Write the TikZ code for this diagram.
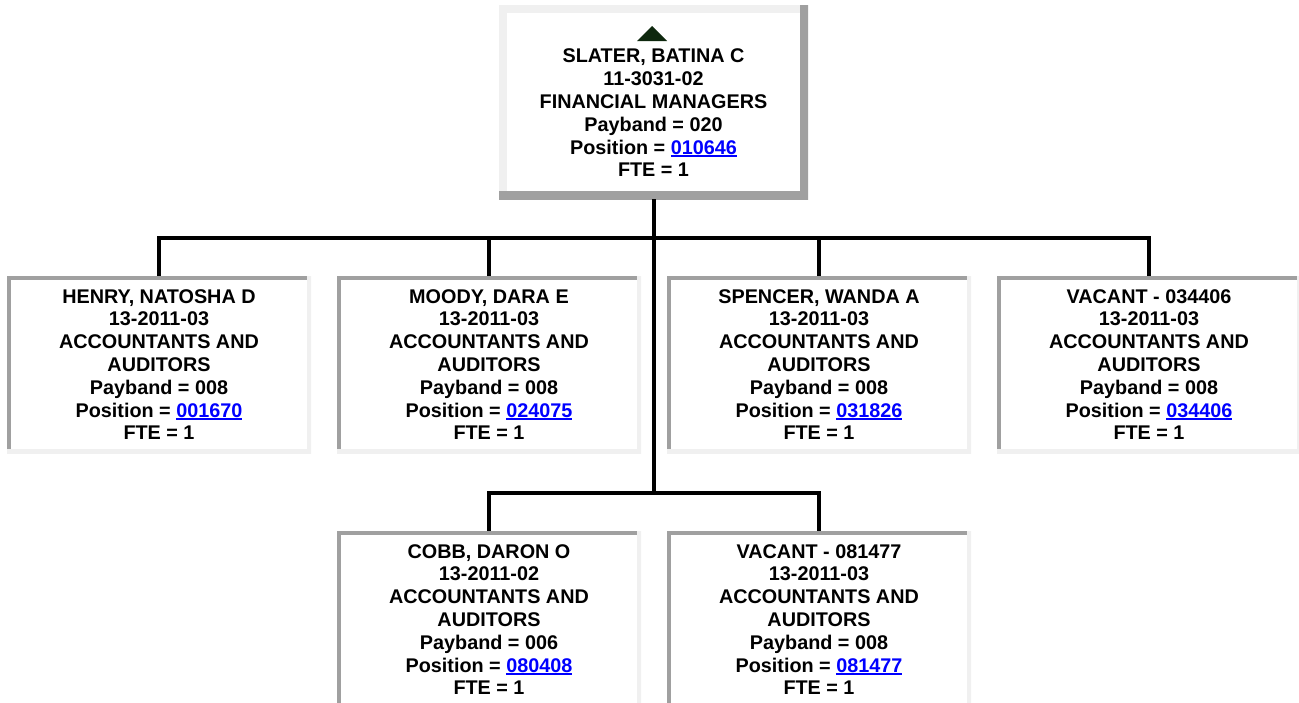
\documentclass[tikz,border=0pt]{standalone}
\usepackage{fontspec}
\setmainfont{Liberation Sans}
\usetikzlibrary{positioning}
\definecolor{bordark}{RGB}{160,160,160}
\definecolor{borlight}{RGB}{240,240,240}
\definecolor{linkblue}{RGB}{0,0,255}
\definecolor{arrowgreen}{RGB}{14,40,14}
\newcommand{\poslink}[1]{\textcolor{linkblue}{\setbox0\hbox{#1}\rlap{\rule[-2.6pt]{\wd0}{1.7pt}}\box0}}

\tikzset{
  txt/.style={align=center,inner sep=0pt,font=\bfseries\fontsize{19.8}{22.8}\selectfont},
  staffbox/.style={txt,fill=white,minimum width=304,minimum height=177,
    path picture={
      \draw[line width=8,bordark] (path picture bounding box.south west) -- (path picture bounding box.north west) -- (path picture bounding box.north east);
      \draw[line width=8,borlight] (path picture bounding box.north east) -- (path picture bounding box.south east) -- (path picture bounding box.south west);}},
  mgrbox/.style={fill=white,minimum width=309,minimum height=194,inner sep=0pt,
    path picture={
      \draw[line width=16,borlight] (path picture bounding box.south west) -- (path picture bounding box.north west) -- (path picture bounding box.north east);
      \draw[line width=16,bordark] (path picture bounding box.north east) -- (path picture bounding box.south east) -- (path picture bounding box.south west);}},
  conn/.style={line width=4}
}

\begin{document}
\begin{tikzpicture}[x=1pt,y=-1pt]
    \useasboundingbox (0,0) rectangle (1299,702);

    \node[mgrbox] (mgr) at (653.5,102) {};
    \fill[arrowgreen] (637,41) -- (652,26) -- (667,41) -- cycle;
    \node[txt] (mgrtext) at (653.5,113) {SLATER, BATINA C\\11-3031-02\\FINANCIAL MANAGERS\\Payband = 020\\Position = \poslink{010646}\\FTE = 1};

    \node[staffbox] (henry) at (159,364.5) {HENRY, NATOSHA D\\13-2011-03\\ACCOUNTANTS AND\\AUDITORS\\Payband = 008\\Position = \poslink{001670}\\FTE = 1};
    \node[staffbox] (moody) at (489,364.5) {MOODY, DARA E\\13-2011-03\\ACCOUNTANTS AND\\AUDITORS\\Payband = 008\\Position = \poslink{024075}\\FTE = 1};
    \node[staffbox] (spencer) at (819,364.5) {SPENCER, WANDA A\\13-2011-03\\ACCOUNTANTS AND\\AUDITORS\\Payband = 008\\Position = \poslink{031826}\\FTE = 1};
    \node[staffbox] (vacanta) at (1149,364.5) {VACANT - 034406\\13-2011-03\\ACCOUNTANTS AND\\AUDITORS\\Payband = 008\\Position = \poslink{034406}\\FTE = 1};

    \node[staffbox] (cobb) at (489,619.5) {COBB, DARON O\\13-2011-02\\ACCOUNTANTS AND\\AUDITORS\\Payband = 006\\Position = \poslink{080408}\\FTE = 1};
    \node[staffbox] (vacantb) at (819,619.5) {VACANT - 081477\\13-2011-03\\ACCOUNTANTS AND\\AUDITORS\\Payband = 008\\Position = \poslink{081477}\\FTE = 1};

    \coordinate (upbus) at (653.5,238);
    \coordinate (lowbus) at (653.5,493);
    \draw[conn] (mgr.south) -- (lowbus);
    \draw[conn] (henry.north) |- (upbus) -| (vacanta.north);
    \draw[conn] (moody.north) -- (moody.north |- upbus);
    \draw[conn] (spencer.north) -- (spencer.north |- upbus);
    \draw[conn] (cobb.north) |- (lowbus) -| (vacantb.north);
\end{tikzpicture}
\end{document}
